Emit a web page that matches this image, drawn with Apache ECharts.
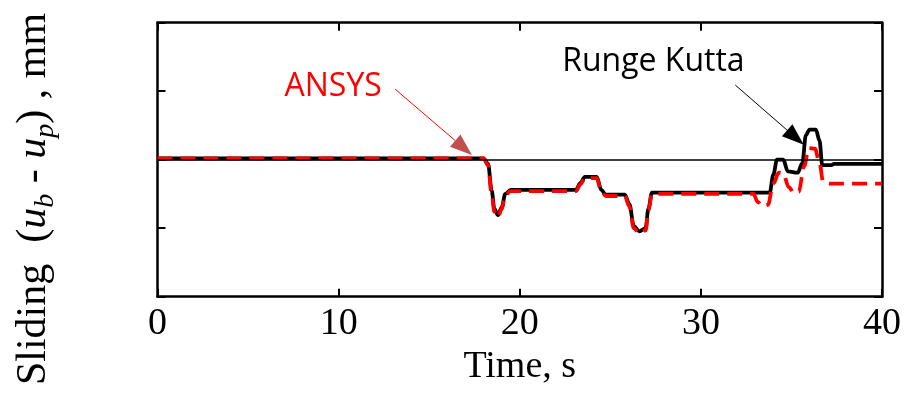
<!DOCTYPE html>
<html>
<head>
<meta charset="utf-8">
<script src="https://cdn.jsdelivr.net/npm/echarts@6/dist/echarts.min.js"></script>
<style>html,body{margin:0;padding:0;background:#fff}#c{width:913px;height:394px}</style>
</head>
<body>
<div id="c"></div>
<script>
// Runge Kutta (black, solid): [time s, sliding]
var rungeKutta = [
  [0, 0.02], [18.0, 0.02], [18.25, -0.06], [18.45, -0.45], [18.6, -0.72], [18.8, -0.81],
  [19.0, -0.70], [19.2, -0.50], [19.5, -0.44], [23.1, -0.44], [23.35, -0.34], [23.6, -0.25],
  [24.25, -0.25], [24.5, -0.44], [24.75, -0.51], [25.8, -0.51], [26.05, -0.65], [26.3, -0.97],
  [26.6, -1.045], [26.95, -1.0], [27.1, -0.72], [27.3, -0.48], [33.8, -0.48], [34.0, -0.22],
  [34.2, 0.0], [34.55, 0.0], [34.8, -0.17], [35.35, -0.19], [35.6, -0.05], [35.8, 0.36],
  [36.0, 0.44], [36.35, 0.44], [36.55, 0.28], [36.7, -0.08], [37.2, -0.08], [37.35, -0.06], [40, -0.06]
];
// ANSYS (red, dashed)
var ansys = [
  [0, 0.02], [18.0, 0.02], [18.25, -0.08], [18.45, -0.5], [18.6, -0.76], [18.8, -0.84],
  [19.0, -0.72], [19.2, -0.52], [19.5, -0.46], [23.1, -0.46], [23.35, -0.36], [23.6, -0.27],
  [24.25, -0.27], [24.5, -0.46], [24.75, -0.53], [25.8, -0.53], [26.05, -0.68], [26.3, -1.0],
  [26.6, -1.08], [26.95, -1.03], [27.1, -0.74], [27.3, -0.5], [32.9, -0.5], [33.15, -0.62],
  [33.4, -0.68], [33.7, -0.66], [34.0, -0.35], [34.3, -0.19], [34.55, -0.2], [34.85, -0.4],
  [35.15, -0.49], [35.4, -0.47], [35.7, -0.1], [35.95, 0.17], [36.3, 0.16], [36.55, -0.05],
  [36.75, -0.32], [37.1, -0.35], [40, -0.35]
];
var xTicks = [0, 10, 20, 30, 40];
// annotations in data coordinates: text centre, arrow start, arrow tip
var ansysNote = {text: 'ANSYS', at: [9.7, 1.06], from: [13.12, 1.03], to: [17.36, 0.07]};
var rkNote = {text: 'Runge Kutta', at: [27.38, 1.43], from: [31.9, 1.09], to: [35.68, 0.22]};

var chart = echarts.init(document.getElementById('c'));
var axisLine = {show: true, onZero: false, lineStyle: {color: '#000', width: 2.5}};
var tick = {show: true, inside: true, length: 8, lineStyle: {color: '#000', width: 2}};
var serif = '"Liberation Serif", "Times New Roman", serif';
chart.setOption({
  animation: false,
  grid: {left: 157.5, right: 31, top: 22.7, bottom: 97.3},
  xAxis: [{
    type: 'value', min: 0, max: 40, interval: 10, position: 'bottom',
    axisLine: axisLine, axisTick: tick, splitLine: {show: false},
    axisLabel: {color: '#000', fontFamily: serif, fontSize: 38, margin: 8,
      formatter: function (v) { return xTicks.indexOf(v) >= 0 ? String(v) : ''; }},
    name: 'Time, s', nameLocation: 'middle', nameGap: 44,
    nameTextStyle: {color: '#000', fontFamily: serif, fontSize: 38}
  }, {
    type: 'value', position: 'top', min: 0, max: 40, interval: 10,
    axisLine: axisLine, axisTick: tick, axisLabel: {show: false}, splitLine: {show: false}
  }],
  yAxis: [{
    type: 'value', min: -2, max: 2, interval: 1, position: 'left',
    axisLine: axisLine, axisTick: tick, axisLabel: {show: false}, splitLine: {show: false}
  }, {
    type: 'value', position: 'right', min: -2, max: 2, interval: 1,
    axisLine: axisLine, axisTick: tick, axisLabel: {show: false}, splitLine: {show: false}
  }],
  series: [{
    name: 'Runge Kutta', type: 'line', data: rungeKutta, showSymbol: false,
    smooth: 0.35, smoothMonotone: 'x',
    lineStyle: {color: '#000', width: 3.8},
    markLine: {silent: true, symbol: 'none', label: {show: false},
      lineStyle: {color: '#000', width: 1.5, type: 'solid'}, data: [{yAxis: 0}]}
  }, {
    name: 'ANSYS', type: 'line', data: ansys, showSymbol: false,
    smooth: 0.35, smoothMonotone: 'x',
    lineStyle: {color: '#ff0000', width: 3.8, type: [15, 8]}
  }]
});

function arrow(note, lineColor, lineWidth, headColor) {
  var p0 = chart.convertToPixel({gridIndex: 0}, note.from);
  var p1 = chart.convertToPixel({gridIndex: 0}, note.to);
  var dx = p1[0] - p0[0], dy = p1[1] - p0[1];
  var L = Math.sqrt(dx * dx + dy * dy), ux = dx / L, uy = dy / L;
  var hl = 22, hw = 8;
  var bx = p1[0] - ux * hl, by = p1[1] - uy * hl;
  return [{
    type: 'line', shape: {x1: p0[0], y1: p0[1], x2: bx, y2: by},
    style: {stroke: lineColor, lineWidth: lineWidth}, silent: true, z: 100
  }, {
    type: 'polygon', shape: {points: [[p1[0], p1[1]], [bx - uy * hw, by + ux * hw], [bx + uy * hw, by - ux * hw]]},
    style: {fill: headColor}, silent: true, z: 100
  }];
}
function label(note, color) {
  var p = chart.convertToPixel({gridIndex: 0}, note.at);
  return {type: 'text', x: p[0], y: p[1], silent: true, z: 100,
    style: {text: note.text, fill: color, font: '32px "Open Sans", sans-serif', align: 'center', verticalAlign: 'middle'}};
}
var g = [];
g = g.concat(arrow(ansysNote, '#ff0000', 1, '#c0504d'));
g = g.concat(arrow(rkNote, '#000', 1, '#000'));
g.push(label(ansysNote, '#ff0000'));
g.push(label(rkNote, '#000'));
g.push({
  type: 'text', x: 34, y: 199, rotation: Math.PI / 2, silent: true,
  style: {
    text: '{a|Sliding  (}{i|u}{s|b}{a| - }{i|u}{s|p}{a|) , mm}',
    align: 'center', verticalAlign: 'middle', fill: '#000',
    rich: {
      a: {fontFamily: serif, fontSize: 42, lineHeight: 52, verticalAlign: 'middle', fill: '#000'},
      i: {fontFamily: serif, fontSize: 42, fontStyle: 'italic', lineHeight: 52, verticalAlign: 'middle', fill: '#000'},
      s: {fontFamily: serif, fontSize: 28, fontStyle: 'italic', lineHeight: 52, verticalAlign: 'bottom', fill: '#000'}
    }
  }
});
chart.setOption({graphic: g});
</script>
</body>
</html>
